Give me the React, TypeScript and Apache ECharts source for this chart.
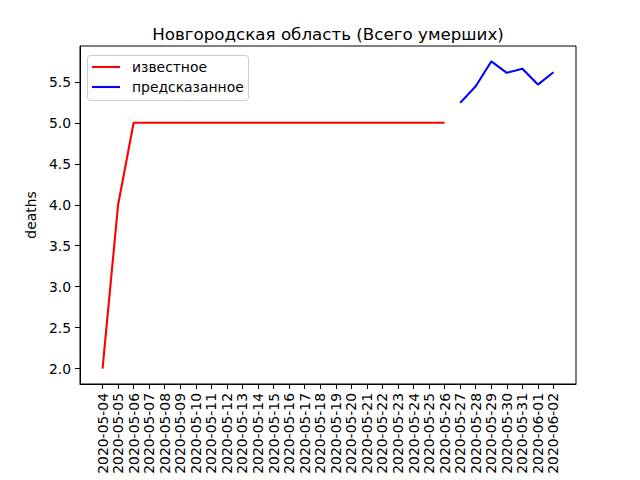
import React, { useEffect, useRef } from "react";
import * as echarts from "echarts";

const dates = [
  "2020-05-04","2020-05-05","2020-05-06","2020-05-07","2020-05-08","2020-05-09",
  "2020-05-10","2020-05-11","2020-05-12","2020-05-13","2020-05-14","2020-05-15",
  "2020-05-16","2020-05-17","2020-05-18","2020-05-19","2020-05-20","2020-05-21",
  "2020-05-22","2020-05-23","2020-05-24","2020-05-25","2020-05-26","2020-05-27",
  "2020-05-28","2020-05-29","2020-05-30","2020-05-31","2020-06-01","2020-06-02",
];
const knownValues = [2, 4, 5, 5, 5, 5, 5, 5, 5, 5, 5, 5, 5, 5, 5, 5, 5, 5, 5, 5, 5, 5, 5];
const predictedValues = [5.243, 5.446, 5.749, 5.61, 5.659, 5.467, 5.617];
const yTicks = [2.0, 2.5, 3.0, 3.5, 4.0, 4.5, 5.0, 5.5];

const titleText = "Новгородская область (Всего умерших)";
const knownName = "известное";
const predictedName = "предсказанное";
const yName = "deaths";

const FONT = "DejaVu Sans";

export default function App() {
  const ref = useRef<HTMLDivElement>(null);
  useEffect(() => {
    if (!ref.current) return;
    const chart = echarts.init(ref.current, undefined, { renderer: "svg" });
    const n = dates.length;
    const pad = (n - 1) * 0.05;
    const knownData = knownValues.map((v, i) => [i, v]);
    const predData = predictedValues.map((v, i) => [knownValues.length + i, v]);
    const idx = dates.map((_, i) => i);
    chart.setOption({
      animation: false,
      backgroundColor: "#ffffff",
      grid: {
        left: 80,
        right: 64,
        top: 46,
        bottom: 96,
        show: true,
        borderColor: "#000",
        borderWidth: 1,
        backgroundColor: "transparent",
      },
      xAxis: {
        type: "value",
        min: -pad,
        max: n - 1 + pad,
        splitLine: { show: false },
        axisLine: { show: true, onZero: false, lineStyle: { color: "#000", width: 1 } },
        axisTick: {
          show: true,
          customValues: idx,
          length: 5,
          lineStyle: { color: "#000", width: 1 },
        },
        axisLabel: {
          customValues: idx,
          rotate: 90,
          margin: 9,
          color: "#000",
          fontFamily: FONT,
          fontSize: 13.9,
          formatter: (v: number) => dates[Math.round(v)] ?? "",
        },
      },
      yAxis: {
        type: "value",
        min: 1.8125,
        max: 5.9375,
        name: yName,
        nameLocation: "middle",
        nameGap: 38,
        nameRotate: 90,
        nameTextStyle: { color: "#000", fontFamily: FONT, fontSize: 13.9 },
        splitLine: { show: false },
        axisLine: { show: true, onZero: false, lineStyle: { color: "#000", width: 1 } },
        axisTick: {
          show: true,
          customValues: yTicks,
          length: 5,
          lineStyle: { color: "#000", width: 1 },
        },
        axisLabel: {
          customValues: yTicks,
          margin: 9,
          color: "#000",
          fontFamily: FONT,
          fontSize: 13.9,
          formatter: (v: number) => v.toFixed(1),
        },
      },
      series: [
        {
          name: knownName,
          type: "line",
          data: knownData,
          symbol: "none",
          lineStyle: { color: "#ff0000", width: 2.1 },
          itemStyle: { color: "#ff0000" },
        },
        {
          name: predictedName,
          type: "line",
          data: predData,
          symbol: "none",
          lineStyle: { color: "#0000ff", width: 2.1 },
          itemStyle: { color: "#0000ff" },
        },
      ],
      graphic: [
        {
          type: "text",
          x: 328,
          y: 34,
          style: {
            text: titleText,
            fontFamily: FONT,
            fontSize: 16.7,
            fill: "#000",
            align: "center",
            verticalAlign: "middle",
          },
        },
        {
          type: "rect",
          shape: { x: 87.5, y: 55.5, width: 161, height: 45, r: 3 },
          style: { fill: "rgba(255,255,255,0.8)", stroke: "#cccccc", lineWidth: 1 },
        },
        {
          type: "line",
          shape: { x1: 92, y1: 67, x2: 120, y2: 67 },
          style: { stroke: "#ff0000", lineWidth: 2.1 },
        },
        {
          type: "text",
          x: 132,
          y: 67,
          style: {
            text: knownName,
            fontFamily: FONT,
            fontSize: 13.9,
            fill: "#000",
            align: "left",
            verticalAlign: "middle",
          },
        },
        {
          type: "line",
          shape: { x1: 92, y1: 87, x2: 120, y2: 87 },
          style: { stroke: "#0000ff", lineWidth: 2.1 },
        },
        {
          type: "text",
          x: 132,
          y: 87,
          style: {
            text: predictedName,
            fontFamily: FONT,
            fontSize: 13.9,
            fill: "#000",
            align: "left",
            verticalAlign: "middle",
          },
        },
      ],
    });
    return () => chart.dispose();
  }, []);
  return (
    <div
      ref={ref}
      style={{ position: "fixed", left: 0, top: 0, width: 640, height: 480 }}
    />
  );
}
